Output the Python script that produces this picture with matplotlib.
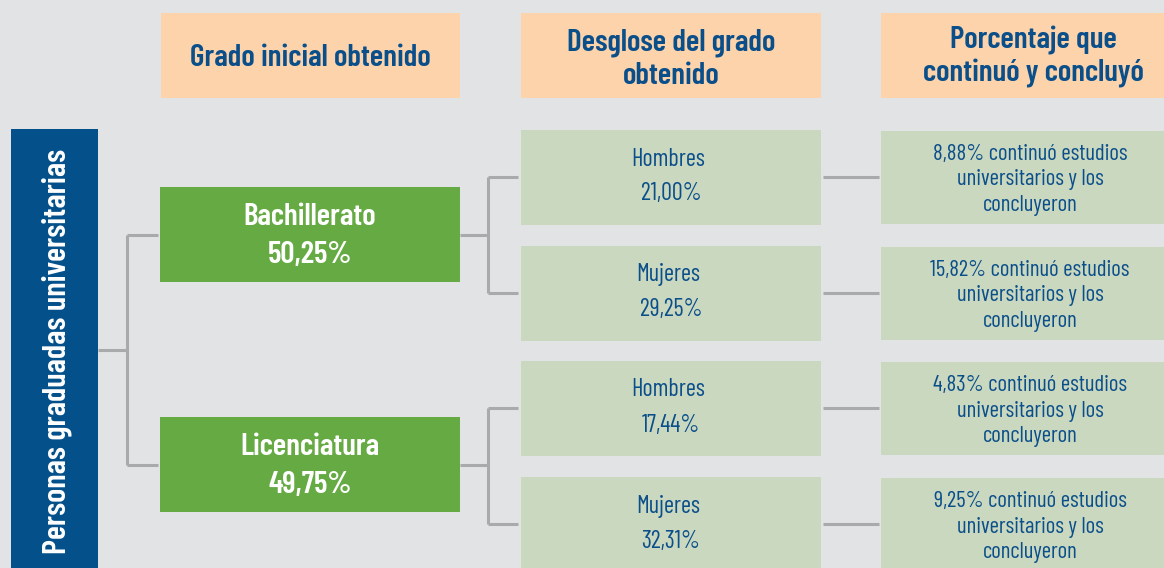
import matplotlib
matplotlib.use("Agg")
import matplotlib.pyplot as plt
from matplotlib.patches import Rectangle

# -------------------------
# DATA
# -------------------------
header_labels = ["Grado inicial obtenido", "Desglose del grado\nobtenido", "Porcentaje que\ncontinuó y concluyó"]
root_label = "Personas graduadas universitarias"
grados = ["Bachillerato", "Licenciatura"]
grado_pct = [50.25, 49.75]
sexos = ["Hombres", "Mujeres", "Hombres", "Mujeres"]
desglose_pct = [21.00, 29.25, 17.44, 32.31]
continuo_pct = [8.88, 15.82, 4.83, 9.25]

# -------------------------
# STYLE
# -------------------------
BG = "#e2e3e5"
PEACH = "#fcd3ab"
NAVY = "#04508a"
GREEN = "#66aa44"
LIGHT = "#cbd8c0"
LINE = "#a9aaac"
TEXT = "#0b4f8a"

plt.rcParams["font.family"] = ["Barlow Condensed", "DejaVu Sans"]


def pct(v):
    return f"{v:.2f}".replace(".", ",") + "%"


fig = plt.figure(figsize=(11.64, 5.68), dpi=100, facecolor=BG)
ax = fig.add_axes([0, 0, 1, 1])
ax.set_xlim(0, 1164)
ax.set_ylim(568, 0)
ax.axis("off")


def box(x0, y0, x1, y1, color):
    ax.add_patch(Rectangle((x0, y0), x1 - x0, y1 - y0, facecolor=color, edgecolor="none", zorder=1))


def line(xs, ys):
    ax.plot(xs, ys, color=LINE, lw=2.2, solid_capstyle="butt", zorder=0)


# headers
col_x = [(161, 460), (521, 821), (881, 1164)]
header_cx = [310, 671, 1033]
header_cy = [58, 59, 57]
for (x0, x1), cx, cy, lab in zip(col_x, header_cx, header_cy, header_labels):
    box(x0, 13, x1, 98, PEACH)
    ax.text(cx, cy, lab, ha="center", va="center", color=TEXT, fontsize=22.5,
            fontweight="semibold", linespacing=1.22)

# root box
box(11, 129, 98, 568, NAVY)
ax.text(57, 351, root_label, rotation=90, ha="center", va="center", color="white",
        fontsize=23.5, fontweight="semibold")

# root connector
grado_cy = [235, 465]
line([98, 127], [350, 350])
line([127, 127], grado_cy)
for cy in grado_cy:
    line([127, 158], [cy, cy])

# grado boxes
for cy, g, p in zip(grado_cy, grados, grado_pct):
    box(160, cy - 48, 460, cy + 47, GREEN)
    ax.text(310, cy - 18, g, ha="center", va="center", color="white", fontsize=22.5, fontweight="semibold")
    ax.text(310, cy + 20, pct(p), ha="center", va="center", color="white", fontsize=22.5, fontweight="semibold")

# desglose + continuo
row_cy = [177, 293, 408, 524]
for i, cy in enumerate(row_cy):
    box(521, cy - 47, 821, min(cy + 48, 568), LIGHT)
    box(881, cy - 46, 1164, min(cy + 47, 568), LIGHT)
    ax.text(668, cy - 18, sexos[i], ha="center", va="center", color=TEXT, fontsize=17.5)
    ax.text(671, cy + 17, pct(desglose_pct[i]), ha="center", va="center", color=TEXT, fontsize=17.5)
    txt = f"{pct(continuo_pct[i])} continuó estudios\nuniversitarios y los\nconcluyeron"
    ax.text(1030, cy + 3, txt, ha="center", va="center", color=TEXT, fontsize=16.5, linespacing=1.27)
    line([823, 879], [cy, cy])

# grado -> desglose connectors
for k, cy in enumerate(grado_cy):
    top, bot = row_cy[2 * k], row_cy[2 * k + 1]
    line([460, 488], [cy, cy])
    line([488, 488], [top, bot])
    line([488, 518], [top, top])
    line([488, 518], [bot, bot])

fig.savefig("out.png", dpi=100, facecolor=BG)
